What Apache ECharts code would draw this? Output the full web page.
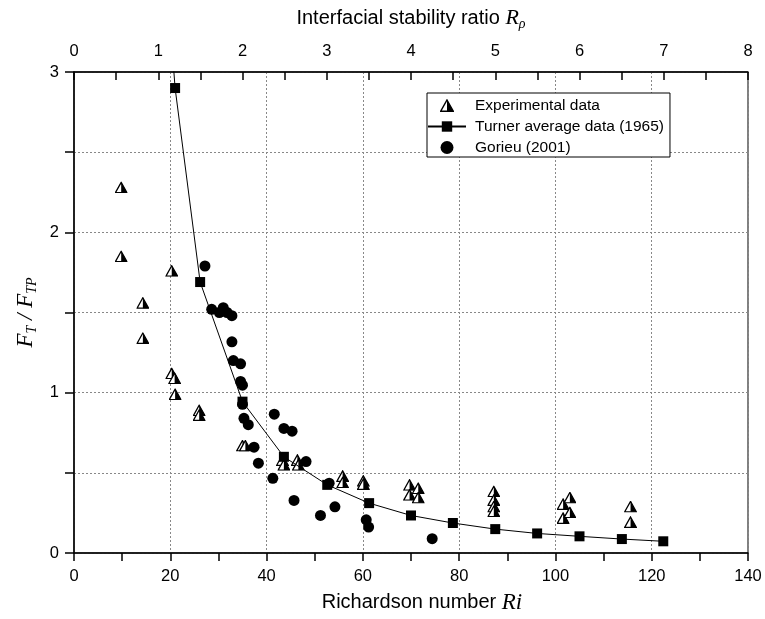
<!DOCTYPE html>
<html><head><meta charset="utf-8">
<script src="https://cdn.jsdelivr.net/npm/echarts@6/dist/echarts.min.js"></script>
<style>html,body{margin:0;padding:0;background:#fff}#c{width:765px;height:619px}</style>
</head><body><div id="c"></div>
<script>
// Experimental data (Ri, F_T/F_TP)
const expRi = [9.8, 9.8, 14.3, 14.3, 20.3, 20.3, 20.9, 21.0, 26.0, 26.0, 35.0, 35.6, 43.3, 43.6, 46.4, 46.6, 55.8, 55.8, 60.1, 60.1, 69.7, 69.7, 71.5, 71.5, 87.2, 87.2, 87.2, 87.2, 101.6, 103.0, 101.6, 103.0, 115.6, 115.6];
const expF  = [2.28, 1.85, 1.56, 1.34, 1.76, 1.12, 1.09, 0.99, 0.89, 0.86, 0.67, 0.67, 0.58, 0.55, 0.58, 0.55, 0.48, 0.44, 0.45, 0.43, 0.425, 0.363, 0.404, 0.346, 0.384, 0.33, 0.29, 0.26, 0.305, 0.346, 0.218, 0.253, 0.29, 0.193];
// Turner average data (1965)
const turnerRi = [19.5, 21.0, 26.2, 35.0, 43.6, 52.6, 61.3, 70.0, 78.7, 87.5, 96.2, 105.0, 113.8, 122.4];
const turnerF  = [3.5, 2.9, 1.69, 0.944, 0.60, 0.425, 0.311, 0.234, 0.187, 0.149, 0.122, 0.104, 0.087, 0.073];
// Gorieu (2001)
const gorRi = [27.2, 28.6, 30.2, 31.0, 31.8, 32.8, 32.8, 33.1, 34.6, 34.6, 35.0, 35.0, 35.3, 36.2, 37.4, 38.3, 41.6, 43.6, 45.3, 48.2, 53.0, 41.3, 45.7, 51.2, 54.2, 60.7, 61.2, 74.4];
const gorF  = [1.79, 1.52, 1.50, 1.53, 1.50, 1.48, 1.317, 1.20, 1.18, 1.07, 1.047, 0.927, 0.84, 0.80, 0.66, 0.56, 0.866, 0.777, 0.76, 0.57, 0.435, 0.466, 0.328, 0.234, 0.288, 0.207, 0.162, 0.089];
// Axis ticks
const riTicks = [0, 20, 40, 60, 80, 100, 120, 140];
const rhoTicks = [0, 1, 2, 3, 4, 5, 6, 7, 8];
const fTicks = [0, 1, 2, 3];

const triSvg = "<svg xmlns='http://www.w3.org/2000/svg' width='13' height='12' viewBox='0 0 13 12'><path d='M6.5 0.9 L12.3 11.3 L0.7 11.3 Z' fill='white' stroke='black' stroke-width='1.3' stroke-linejoin='miter'/><path d='M6.5 0.9 L12.3 11.3 L6.5 11.3 Z' fill='black'/></svg>";
const triSym = 'image://data:image/svg+xml;charset=utf-8,' + encodeURIComponent(triSvg);

const sans = 'Liberation Sans, Arial, sans-serif';
const serif = 'Liberation Serif, Times New Roman, serif';
const chart = echarts.init(document.getElementById('c'), null, {renderer: 'canvas'});
const dotted = {show: true, lineStyle: {color: '#888', type: [2, 2], width: 1}};
chart.setOption({
  animation: false,
  backgroundColor: '#fff',
  grid: {left: 74, right: 17, top: 72, bottom: 64, show: true, borderColor: '#000', borderWidth: 1},
  legend: {
    left: 427, top: 93, orient: 'vertical', padding: [3, 6, 0, 0],
    borderColor: '#000', borderWidth: 1, backgroundColor: '#fff',
    itemWidth: 38, itemHeight: 13, itemGap: 2,
    textStyle: {fontFamily: sans, fontSize: 15.5, color: '#000', lineHeight: 19, padding: [0, 0, 0, 4]},
    data: ['Experimental data', 'Turner average data (1965)', 'Gorieu (2001)']
  },
  xAxis: [{
    type: 'value', position: 'bottom', min: riTicks[0], max: riTicks[riTicks.length - 1], interval: 20,
    name: '{a|Richardson number }{b|Ri}', nameLocation: 'middle', nameGap: 38,
    nameTextStyle: {padding: [0, 0, 0, 22], rich: {a: {fontFamily: sans, fontSize: 20, color: '#000'}, b: {fontFamily: serif, fontStyle: 'italic', fontSize: 23, color: '#000'}}},
    axisLine: {show: true, lineStyle: {color: '#000', width: 1.5}},
    axisTick: {show: true, inside: false, length: 8, lineStyle: {color: '#000', width: 1.5}},
    minorTick: {show: true, splitNumber: 2, length: 8, lineStyle: {color: '#000', width: 1.5}},
    axisLabel: {fontFamily: sans, fontSize: 16.5, color: '#000', margin: 15},
    splitLine: dotted
  }, {
    type: 'value', position: 'top', min: rhoTicks[0], max: rhoTicks[rhoTicks.length - 1], interval: 1,
    name: '{a|Interfacial stability ratio }{b|R}{c|ρ}', nameLocation: 'middle', nameGap: 41,
    nameTextStyle: {rich: {a: {fontFamily: sans, fontSize: 20, color: '#000'}, b: {fontFamily: serif, fontStyle: 'italic', fontSize: 22, color: '#000'}, c: {fontFamily: serif, fontStyle: 'italic', fontSize: 14, color: '#000', verticalAlign: 'bottom', padding: [12, 0, 0, 0]}}},
    axisLine: {show: true, lineStyle: {color: '#000', width: 1.5}},
    axisTick: {show: true, inside: true, length: 8, lineStyle: {color: '#000', width: 1.5}},
    minorTick: {show: true, splitNumber: 2, length: 8, lineStyle: {color: '#000', width: 1.5}},
    axisLabel: {fontFamily: sans, fontSize: 16.5, color: '#000', margin: 12},
    splitLine: {show: false}
  }],
  yAxis: [{
    type: 'value', min: fTicks[0], max: fTicks[fTicks.length - 1], interval: 0.5,
    name: '{f|F}{s|T}{m| / }{f|F}{s|TP}', nameLocation: 'middle', nameGap: 31, nameRotate: 90,
    nameTextStyle: {rich: {
      f: {fontFamily: serif, fontStyle: 'italic', fontSize: 23, color: '#000'},
      m: {fontFamily: serif, fontStyle: 'italic', fontSize: 23, color: '#000'},
      s: {fontFamily: serif, fontStyle: 'italic', fontSize: 14, color: '#000', verticalAlign: 'bottom', padding: [12, 0, 0, 0]}}},
    axisLine: {show: true, lineStyle: {color: '#000', width: 1.5}},
    axisTick: {show: true, inside: false, length: 9, lineStyle: {color: '#000', width: 1.5}},
    axisLabel: {fontFamily: sans, fontSize: 16.5, color: '#000', margin: 15,
      formatter: v => (fTicks.indexOf(v) >= 0 ? String(v) : '')},
    splitLine: dotted
  }],
  series: [{
    name: 'Experimental data', type: 'scatter', xAxisIndex: 0,
    symbol: triSym, symbolSize: [13, 12], itemStyle: {opacity: 1},
    data: expRi.map((r, i) => [r, expF[i]]), z: 3
  }, {
    name: 'Turner average data (1965)', type: 'line', xAxisIndex: 0,
    symbol: 'rect', symbolSize: 10, showSymbol: true,
    itemStyle: {color: '#000', opacity: 1}, lineStyle: {color: '#000', width: 1},
    data: turnerRi.map((r, i) => i === 0 ? {value: [r, turnerF[i]], symbol: 'none'} : [r, turnerF[i]]), z: 4
  }, {
    name: 'Gorieu (2001)', type: 'scatter', xAxisIndex: 0,
    symbol: 'circle', symbolSize: 11, itemStyle: {color: '#000', opacity: 1},
    data: gorRi.map((r, i) => [r, gorF[i]]), z: 5
  }]
});
</script></body></html>
